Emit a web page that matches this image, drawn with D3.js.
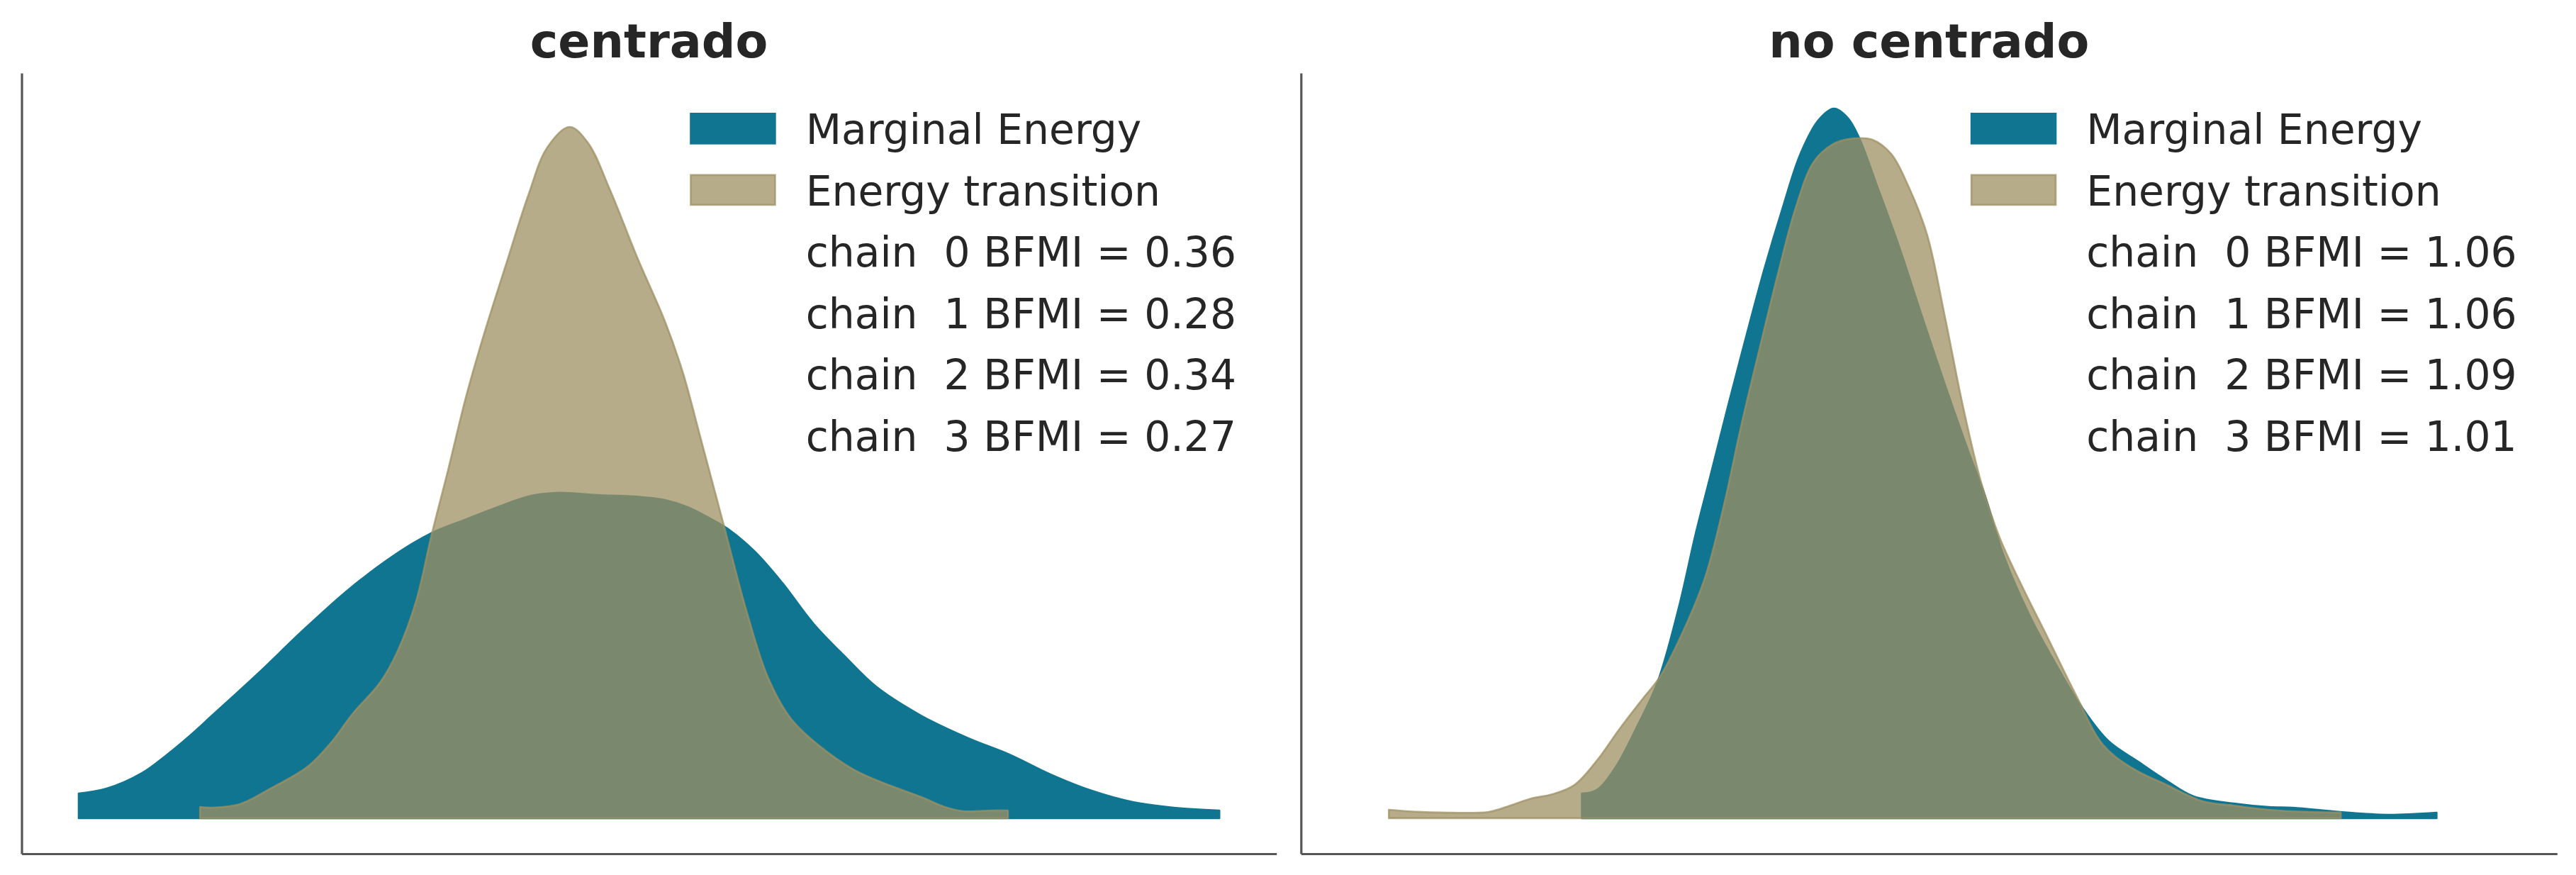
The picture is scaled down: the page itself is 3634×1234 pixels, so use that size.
<!DOCTYPE html>
<html><head><meta charset="utf-8">
<script src="https://cdn.jsdelivr.net/npm/d3@7"></script>
<style>html,body{margin:0;padding:0;background:#fff;} svg{display:block;}</style>
</head><body>
<svg id="chart" width="3634" height="1234"></svg>
<script>
// ---------- data ----------
const panelTitles = ["centrado", "no centrado"];
const seriesNames = ["Marginal Energy", "Energy transition"];
const chainIds = [0, 1, 2, 3];
const bfmiCentrado = [0.36, 0.28, 0.34, 0.27];
const bfmiNoCentrado = [1.06, 1.06, 1.09, 1.01];

// [centered energy, density]
const centradoMarginal = [
  [-10.0,0.014],[-9.51,0.0168],[-8.89,0.0256],[-8.48,0.0352],[-8.06,0.0464],[-7.65,0.0584],
  [-6.85,0.082],[-6.06,0.1064],[-5.27,0.1292],[-4.48,0.1484],[-3.84,0.1608],[-3.21,0.169],
  [-2.58,0.1768],[-2.11,0.182],[-1.62,0.184],[-0.91,0.1828],[-0.12,0.1816],[0.28,0.18],
  [0.68,0.176],[1.07,0.1696],[1.39,0.1636],[1.86,0.1508],[2.34,0.1332],[2.89,0.11],
  [3.45,0.0912],[3.99,0.0744],[4.78,0.058],[5.61,0.0452],[6.33,0.036],[7.05,0.0248],
  [7.77,0.0156],[8.49,0.0092],[9.21,0.006],[10.01,0.0044]
];
const centradoTransition = [
  [-7.87,0.0064],[-7.65,0.006],[-7.17,0.008],[-6.61,0.0172],[-5.98,0.0292],[-5.58,0.0424],
  [-5.19,0.0592],[-4.71,0.0768],[-4.40,0.0948],[-4.08,0.1228],[-3.81,0.16],[-3.52,0.1968],
  [-3.21,0.2376],[-2.89,0.2736],[-2.49,0.3144],[-2.11,0.3524],[-1.78,0.3792],[-1.39,0.3908],
  [-1.07,0.382],[-0.68,0.3552],[-0.20,0.3168],[0.28,0.2812],[0.59,0.2528],[0.91,0.2148],
  [1.31,0.1664],[1.71,0.1176],[2.09,0.0796],[2.49,0.0564],[2.98,0.0412],[3.61,0.0272],
  [4.24,0.0184],[4.78,0.012],[5.19,0.0064],[5.52,0.004],[6.02,0.0044],[6.30,0.0044]
];
const noCentradoMarginal = [
  [-6.08,0.014],[-5.82,0.016],[-5.49,0.0288],[-5.11,0.052],[-4.75,0.0772],[-4.39,0.118],
  [-4.08,0.1616],[-3.84,0.192],[-3.52,0.2328],[-3.21,0.2712],[-2.89,0.3096],[-2.56,0.3452],
  [-2.25,0.3756],[-1.93,0.3948],[-1.66,0.4012],[-1.42,0.396],[-1.22,0.3848],[-0.91,0.358],
  [-0.51,0.3224],[-0.12,0.284],[0.28,0.2456],[0.68,0.2088],[0.99,0.182],[1.31,0.1488],
  [1.79,0.1132],[2.27,0.0848],[2.65,0.0644],[3.14,0.044],[3.69,0.0316],[4.17,0.0212],
  [4.64,0.0124],[5.34,0.0084],[5.96,0.0064],[6.38,0.006],[7.21,0.0036],[8.03,0.002],[8.90,0.0032]
];
const noCentradoTransition = [
  [-9.46,0.0048],[-8.95,0.0036],[-8.54,0.0032],[-7.71,0.0036],[-7.33,0.0072],[-6.96,0.0112],
  [-6.59,0.0136],[-6.21,0.0188],[-5.82,0.0324],[-5.42,0.0504],[-5.02,0.0672],[-4.71,0.08],
  [-4.31,0.1052],[-3.92,0.136],[-3.59,0.1768],[-3.28,0.2228],[-2.96,0.266],[-2.65,0.3068],
  [-2.33,0.3452],[-2.02,0.3708],[-1.69,0.3808],[-1.38,0.384],[-0.99,0.3836],[-0.66,0.3756],
  [-0.35,0.3568],[-0.03,0.33],[0.28,0.284],[0.60,0.2328],[0.92,0.1896],[1.24,0.1588],
  [1.64,0.1308],[2.11,0.1004],[2.58,0.0696],[3.05,0.0416],[3.54,0.0288],[4.17,0.0188],
  [4.80,0.0096],[5.34,0.0072],[5.96,0.0048],[6.58,0.0036],[7.22,0.0032]
];

// ---------- layout / style ----------
const colMarginal = "#107591";
const colTransition = "#9e9063";
const transAlpha = 0.75;
const textColor = "#262626";
const spineColor = "#555555";
const font = "'DejaVu Sans', sans-serif";

const axTop = 103, axBottom = 1204;
const panelBoxes = [{left: 30.5, right: 1800.7}, {left: 1835.3, right: 3607.3}];
const panelSeries = [
  {marginal: centradoMarginal, transition: centradoTransition, bfmi: bfmiCentrado},
  {marginal: noCentradoMarginal, transition: noCentradoTransition, bfmi: bfmiNoCentrado}
];

// shared scales (sharex / sharey with 5% margins)
const allPts = [centradoMarginal, centradoTransition, noCentradoMarginal, noCentradoTransition].flat();
const xExt = d3.extent(allPts, d => d[0]);
const xPad = (xExt[1] - xExt[0]) * 0.05;
const yMax = d3.max(allPts, d => d[1]);
const yDomain = [-0.05 * yMax, yMax * 1.05];

const svg = d3.select("#chart");
svg.append("rect").attr("width", 3634).attr("height", 1234).attr("fill", "#fff");

panelBoxes.forEach((box, i) => {
  const x = d3.scaleLinear().domain([xExt[0] - xPad, xExt[1] + xPad]).range([box.left, box.right]);
  const y = d3.scaleLinear().domain(yDomain).range([axBottom, axTop]);
  const g = svg.append("g");
  const ser = panelSeries[i];

  const area = d3.area()
    .x(d => x(d[0]))
    .y0(y(0))
    .y1(d => y(d[1]))
    .curve(d3.curveCatmullRom.alpha(0.5));

  g.append("path").datum(ser.marginal)
    .attr("d", area)
    .attr("fill", colMarginal)
    .attr("stroke", colMarginal)
    .attr("stroke-width", 2.5)
    .attr("stroke-linejoin", "round");

  g.append("path").datum(ser.transition)
    .attr("d", area)
    .attr("fill", colTransition).attr("fill-opacity", transAlpha)
    .attr("stroke", colTransition).attr("stroke-opacity", transAlpha)
    .attr("stroke-width", 2.7)
    .attr("stroke-linejoin", "round");

  // spines (left + bottom) via d3 axes, no ticks
  const ax = g.append("g").attr("transform", `translate(${box.left},0)`)
    .call(d3.axisLeft(y).tickValues([]).tickSizeOuter(0));
  const bx = g.append("g").attr("transform", `translate(0,${axBottom})`)
    .call(d3.axisBottom(x).tickValues([]).tickSizeOuter(0));
  [ax, bx].forEach(a => a.select(".domain").attr("stroke", spineColor).attr("stroke-width", 3.2));

  // title
  g.append("text")
    .attr("x", (box.left + box.right) / 2).attr("y", 81)
    .attr("text-anchor", "middle")
    .attr("font-family", font).attr("font-weight", "bold")
    .attr("font-size", 66.7).attr("fill", textColor)
    .text(panelTitles[i]);

  // legend
  const patchX = box.right - 827.5;
  const textX = patchX + 163.5;
  const base0 = 203, step = 86.5;
  const lg = g.append("g");
  lg.append("rect").attr("x", patchX).attr("y", base0 - 44).attr("width", 121.5).attr("height", 44.7)
    .attr("fill", colMarginal);
  lg.append("rect").attr("x", patchX + 1.3).attr("y", base0 + step - 44 + 1.3).attr("width", 118.9).attr("height", 42.1)
    .attr("fill", colTransition).attr("fill-opacity", transAlpha)
    .attr("stroke", colTransition).attr("stroke-opacity", transAlpha).attr("stroke-width", 2.7);
  const labels = seriesNames.concat(chainIds.map(c => `chain  ${c} BFMI = ${ser.bfmi[c].toFixed(2)}`));
  labels.forEach((t, k) => {
    lg.append("text")
      .attr("x", textX).attr("y", base0 + k * step)
      .attr("font-family", font).attr("font-size", 58.3)
      .attr("fill", textColor)
      .style("white-space", "pre")
      .text(t);
  });
});
</script>
</body></html>
